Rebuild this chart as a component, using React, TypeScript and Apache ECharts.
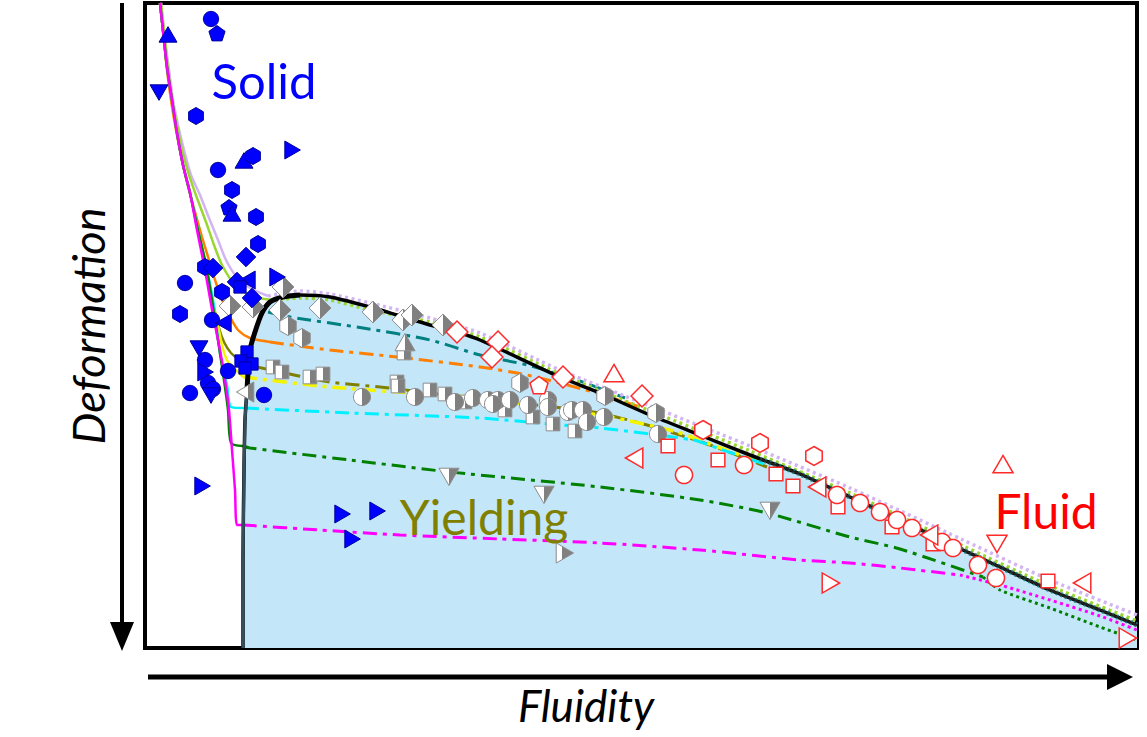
import React, { useEffect, useRef } from "react";
import * as echarts from "echarts";

type Pt = [number, number];
type Shape = "circle" | "square" | "diamond" | "triUp" | "triDown" | "triLeft" | "triRight" | "pentagon" | "hexagon";
type Marker = [number, number, Shape];

const SHAPES: Shape[] = ["circle", "square", "diamond", "triUp", "triDown", "triLeft", "triRight", "pentagon", "hexagon"];

// Axis ranges (arbitrary units)
const X_RANGE: Pt = [145, 1137];
const Y_RANGE: Pt = [3, 648];

// ---------- Markers ----------
const solidMarkers: Marker[] = [
  [211, 19, "circle"], [218, 170, "circle"], [185, 283, "circle"], [212, 320, "circle"], [205, 360, "circle"],
  [228, 371, "circle"], [208, 383, "circle"], [213, 389, "circle"], [190, 393, "circle"], [264, 395, "circle"],
  [217, 34, "pentagon"], [229, 208, "pentagon"],
  [168, 37, "triUp"], [244, 163, "triUp"], [232, 216, "triUp"],
  [159, 90, "triDown"], [199, 346, "triDown"], [211, 393, "triDown"],
  [290, 150, "triRight"], [275, 277, "triRight"], [203, 372, "triRight"], [200, 486, "triRight"],
  [340, 514, "triRight"], [375, 511, "triRight"], [350, 539, "triRight"],
  [250, 280, "triLeft"], [226, 323, "triLeft"],
  [196, 116, "hexagon"], [253, 156, "hexagon"], [232, 190, "hexagon"], [256, 217, "hexagon"],
  [258, 244, "hexagon"], [205, 267, "hexagon"], [222, 292, "hexagon"], [180, 314, "hexagon"],
  [246, 257, "diamond"], [213, 268, "diamond"], [237, 282, "diamond"], [252, 298, "diamond"],
  [240, 287, "square"], [247, 352, "square"], [241, 361, "square"], [252, 364, "square"], [245, 368, "square"],
];

const yieldingMarkers: Marker[] = [
  [283, 287, "diamond"], [230, 306, "diamond"], [253, 307, "diamond"], [280, 310, "diamond"], [320, 308, "diamond"],
  [373, 312, "diamond"], [403, 320, "diamond"], [412, 315, "diamond"], [443, 325, "diamond"],
  [288, 326, "hexagon"], [302, 338, "hexagon"], [520, 383, "hexagon"], [605, 396, "hexagon"], [656, 413, "hexagon"],
  [404, 353, "square"], [405, 345, "triUp"],
  [273, 367, "square"], [282, 372, "square"], [310, 377, "square"], [323, 374, "square"], [397, 382, "square"],
  [398, 386, "square"], [430, 390, "square"], [445, 394, "square"], [465, 402, "square"], [505, 410, "square"],
  [533, 417, "square"], [553, 424, "square"], [575, 431, "square"],
  [362, 397, "circle"], [415, 397, "circle"], [455, 402, "circle"], [473, 398, "circle"], [488, 400, "circle"],
  [498, 400, "circle"], [493, 404, "circle"], [510, 400, "circle"], [528, 405, "circle"], [548, 400, "circle"],
  [548, 407, "circle"], [568, 412, "circle"], [572, 410, "circle"], [583, 410, "circle"], [587, 422, "circle"],
  [604, 417, "circle"], [658, 434, "circle"],
  [248, 392, "triLeft"],
  [449, 474, "triDown"], [544, 492, "triDown"], [770, 508, "triDown"],
  [562, 553, "triRight"],
];

const fluidMarkers: Marker[] = [
  [457, 332, "diamond"], [498, 342, "diamond"], [492, 357, "diamond"], [563, 377, "diamond"], [642, 396, "diamond"],
  [614, 376, "triUp"], [1003, 467, "triUp"],
  [539, 386, "pentagon"],
  [703, 430, "hexagon"], [760, 443, "hexagon"], [814, 456, "hexagon"],
  [668, 446, "square"], [718, 460, "square"], [776, 474, "square"], [793, 486, "square"], [838, 507, "square"],
  [892, 527, "square"], [933, 544, "square"], [1048, 581, "square"],
  [684, 475, "circle"], [744, 465, "circle"], [837, 495, "circle"], [860, 503, "circle"], [880, 512, "circle"],
  [897, 520, "circle"], [912, 528, "circle"], [942, 542, "circle"], [953, 548, "circle"], [978, 565, "circle"],
  [996, 578, "circle"],
  [637, 458, "triLeft"], [820, 487, "triLeft"], [932, 535, "triLeft"], [1085, 583, "triLeft"],
  [997, 541, "triDown"],
  [828, 583, "triRight"], [1125, 638, "triRight"],
];

// ---------- Curves ----------
const boundaryCurve: Pt[] = [
  [243, 648], [243, 560], [244, 470], [245, 420], [247, 390], [250, 350], [255, 332], [262, 313], [270, 302],
  [283, 297], [300, 295], [330, 297], [370, 307], [397, 315], [430, 325], [460, 333], [480, 340], [560, 377],
  [600, 393], [650, 415], [700, 435], [750, 455], [800, 474], [850, 497], [900, 520], [963, 550], [1000, 567],
  [1050, 590], [1100, 610], [1137, 625],
];
const boundaryKnee: Pt[] = [[247, 390], [250, 350], [255, 332], [262, 313], [270, 302], [283, 297], [300, 295]];
const boundaryLeftEdge: Pt[] = [[243, 648], [243, 560], [244, 470], [245, 420], [247, 390]];
const boundaryTail: Pt[] = [
  [760, 459], [800, 474], [850, 497], [900, 520], [963, 550], [1000, 567], [1050, 590], [1100, 610], [1137, 625],
];

const lavenderSolid: Pt[] = [
  [161, 3], [165, 40], [169, 70], [173, 100], [178, 125], [184, 150], [191, 175], [200, 195], [209, 218],
  [218, 240], [226, 260], [236, 276], [250, 288], [268, 296],
];
const lavenderDotted: Pt[] = [
  [268, 296], [300, 291], [330, 294], [370, 303], [430, 318], [480, 333], [560, 370], [650, 406], [750, 446],
  [850, 488], [963, 540], [1050, 580], [1137, 615],
];
const limeSolid: Pt[] = [
  [161, 3], [165, 40], [168, 70], [172, 100], [177, 125], [182, 150], [189, 175], [197, 198], [206, 222],
  [214, 245], [222, 265], [235, 285], [254, 297], [273, 300],
];
const limeDotted: Pt[] = [
  [273, 300], [300, 298], [330, 300], [370, 310], [430, 322], [480, 337], [560, 374], [650, 411], [750, 451],
  [850, 493], [963, 546], [1050, 586], [1137, 621],
];
const orangeSolid: Pt[] = [
  [160, 3], [164, 40], [167, 70], [171, 100], [176, 130], [183, 165], [189, 190], [195, 212], [202, 237],
  [209, 260], [216, 283], [223, 302], [230, 317], [238, 330], [250, 338], [270, 342],
];
const orangeDashDot: Pt[] = [[270, 342], [330, 350], [397, 357], [480, 367], [527, 375], [593, 392], [640, 407]];
const tealDashDot: Pt[] = [[268, 312], [290, 317], [363, 328], [430, 340], [480, 355], [527, 365], [577, 380], [625, 398]];
const oliveSolid: Pt[] = [
  [160, 3], [164, 40], [167, 67], [172, 100], [177, 133], [183, 165], [190, 193], [198, 230], [206, 268],
  [213, 303], [219, 328], [224, 342], [231, 353], [240, 360], [257, 367],
];
const oliveDashDot: Pt[] = [[257, 367], [330, 382], [380, 387], [463, 397], [593, 412], [647, 425], [710, 445], [767, 467]];
const yellowSolid: Pt[] = [
  [160, 3], [164, 40], [167, 67], [172, 100], [177, 133], [183, 165], [190, 193], [198, 230], [206, 265],
  [212, 300], [217, 320], [222, 345], [227, 360], [234, 368], [243, 377],
];
const yellowDashDot: Pt[] = [[243, 377], [330, 387], [480, 398], [537, 406], [610, 417], [677, 432], [710, 444], [760, 462]];
const cyanSolid: Pt[] = [
  [160, 3], [164, 40], [167, 67], [172, 100], [177, 133], [183, 165], [190, 193], [198, 230], [206, 265],
  [213, 300], [220, 353], [227, 385], [231, 407], [245, 408],
];
const cyanDashDot: Pt[] = [[245, 408], [350, 413], [480, 418], [560, 425], [600, 428], [693, 440], [720, 449], [770, 466]];
const greenSolid: Pt[] = [
  [160, 3], [164, 40], [167, 67], [172, 100], [177, 133], [183, 165], [190, 193], [198, 230], [206, 265],
  [212, 300], [218, 340], [224, 380], [228, 410], [231, 443], [243, 446],
];
const greenDashDot: Pt[] = [
  [243, 446], [250, 448], [350, 460], [450, 472], [600, 487], [700, 500], [767, 513], [850, 537], [900, 549], [983, 577],
];
const greenDotted: Pt[] = [[983, 577], [1000, 590], [1050, 608], [1100, 627], [1137, 640]];
const magentaSolid: Pt[] = [
  [160, 3], [164, 40], [167, 67], [172, 100], [177, 133], [183, 165], [190, 193], [197, 230], [205, 270],
  [213, 315], [220, 350], [225, 380], [229, 410], [232, 450], [235, 490], [237, 525], [243, 525],
];
const magentaDashDot: Pt[] = [
  [243, 525], [320, 530], [400, 535], [500, 539], [600, 543], [700, 550], [800, 560], [850, 563], [900, 568], [960, 575],
];
const magentaDotted: Pt[] = [[960, 575], [1000, 585], [1050, 600], [1100, 616], [1137, 630]];

// ---------- Marker geometry ----------
function shapePoints(shape: Shape, r: number): number[][] {
  const poly = (n: number, R: number, start: number) => {
    const pts: number[][] = [];
    for (let k = 0; k < n; k++) {
      const a = start + (k * 2 * Math.PI) / n;
      pts.push([R * Math.cos(a), R * Math.sin(a)]);
    }
    return pts;
  };
  const d = -Math.PI / 2;
  switch (shape) {
    case "circle": return poly(36, r * 0.9, 0);
    case "square": { const a = r * 0.72; return [[-a, -a], [a, -a], [a, a], [-a, a]]; }
    case "diamond": { const a = r * 1.15; return [[0, -a], [a, 0], [0, a], [-a, 0]]; }
    case "triUp": return poly(3, r * 1.22, d);
    case "triDown": return poly(3, r * 1.22, -d);
    case "triRight": return poly(3, r * 1.22, 0);
    case "triLeft": return poly(3, r * 1.22, Math.PI);
    case "pentagon": return poly(5, r, d);
    case "hexagon": return poly(6, r, d);
  }
  return [];
}

function clipRight(pts: number[][]): number[][] {
  const out: number[][] = [];
  const n = pts.length;
  const cut = (p: number[], c: number[]) => {
    const t = -p[0] / (c[0] - p[0]);
    return [0, p[1] + t * (c[1] - p[1])];
  };
  for (let i = 0; i < n; i++) {
    const cur = pts[i];
    const prev = pts[(i - 1 + n) % n];
    const cIn = cur[0] >= -1e-9;
    const pIn = prev[0] >= -1e-9;
    if (cIn) {
      if (!pIn) out.push(cut(prev, cur));
      out.push(cur);
    } else if (pIn) {
      out.push(cut(prev, cur));
    }
  }
  return out;
}

function markerSeries(data: Marker[], mode: "solid" | "half" | "open", size: number, z: number) {
  return {
    type: "custom",
    coordinateSystem: "cartesian2d",
    silent: true,
    z,
    clip: false,
    encode: { x: 0, y: 1 },
    data: data.map(([x, y, s]) => [x, y, SHAPES.indexOf(s)]),
    renderItem: (_params: any, api: any) => {
      const c = api.coord([api.value(0), api.value(1)]);
      const shape = SHAPES[api.value(2) as number];
      const base = shapePoints(shape, size / 2);
      const tr = (pts: number[][]) => pts.map((p) => [p[0] + c[0], p[1] + c[1]]);
      const children: any[] = [];
      if (mode === "solid") {
        children.push({ type: "polygon", shape: { points: tr(base) }, style: { fill: "#0000ff", stroke: "#00009a", lineWidth: 1 } });
      } else if (mode === "half") {
        children.push({ type: "polygon", shape: { points: tr(base) }, style: { fill: "#ffffff", stroke: "none" } });
        children.push({ type: "polygon", shape: { points: tr(clipRight(base)) }, style: { fill: "#808080", stroke: "none" } });
        children.push({ type: "polygon", shape: { points: tr(base) }, style: { fill: "none", stroke: "#8c8c8c", lineWidth: 1 } });
      } else {
        children.push({ type: "polygon", shape: { points: tr(base) }, style: { fill: "#ffffff", stroke: "#ff2a2a", lineWidth: 1.5 } });
      }
      return { type: "group", children };
    },
  };
}

function lineSeries(data: Pt[], color: string, width: number, type: any, smooth = 0.25) {
  return {
    type: "line",
    data,
    symbol: "none",
    showSymbol: false,
    silent: true,
    smooth,
    z: 3,
    lineStyle: { color, width, type, cap: "butt" },
  };
}

const DASH_DOT = [14, 6, 4, 6];
const DOT = [3, 3.5];

export default function App() {
  const ref = useRef<HTMLDivElement>(null);
  useEffect(() => {
    document.body.style.margin = "0";
    if (!ref.current) return;
    const chart = echarts.init(ref.current, undefined, { renderer: "svg" });
    const option: any = {
      animation: false,
      backgroundColor: "#ffffff",
      grid: { left: 145, right: 10, top: 3, bottom: 89, show: true, borderColor: "#000", borderWidth: 4, backgroundColor: "transparent" },
      xAxis: { type: "value", min: X_RANGE[0], max: X_RANGE[1], show: false },
      yAxis: { type: "value", min: Y_RANGE[0], max: Y_RANGE[1], inverse: true, show: false },
      series: [
        {
          type: "line",
          data: boundaryCurve,
          symbol: "none",
          silent: true,
          smooth: 0.25,
          z: 1,
          lineStyle: { width: 0, opacity: 0 },
          areaStyle: { color: "#c4e6f9", opacity: 1, origin: "end" },
        },
        lineSeries(lavenderSolid, "#d2b4f2", 2.5, "solid"),
        lineSeries(limeSolid, "#9ad632", 2.5, "solid"),
        lineSeries(orangeSolid, "#ff7f00", 2.5, "solid"),
        lineSeries(orangeDashDot, "#ff7f00", 3, DASH_DOT),
        lineSeries(tealDashDot, "#008080", 3, DASH_DOT),
        lineSeries(oliveSolid, "#808000", 2.5, "solid"),
        lineSeries(oliveDashDot, "#808000", 3, DASH_DOT),
        lineSeries(yellowSolid, "#f4f400", 2.5, "solid"),
        lineSeries(yellowDashDot, "#f4f400", 3.5, DASH_DOT),
        lineSeries(cyanSolid, "#00f0ff", 2.5, "solid"),
        lineSeries(cyanDashDot, "#00f0ff", 3, DASH_DOT),
        lineSeries(greenSolid, "#008000", 2.5, "solid"),
        lineSeries(greenDashDot, "#008000", 3, DASH_DOT),
        lineSeries(greenDotted, "#008000", 3, DOT),
        lineSeries(magentaSolid, "#ff00ff", 2.5, "solid"),
        lineSeries(magentaDashDot, "#ff00ff", 3, DASH_DOT),
        lineSeries(magentaDotted, "#ff00ff", 3, DOT),
        lineSeries(lavenderDotted, "#d2b4f2", 3.5, DOT),
        lineSeries(limeDotted, "#9ad632", 3.5, DOT),
        lineSeries(boundaryCurve, "#000000", 3.5, "solid"),
        lineSeries(boundaryKnee, "#000000", 5, "solid"),
        lineSeries(boundaryTail, "#1f7f80", 5, [2, 3]),
        lineSeries(boundaryTail, "#202020", 2, "solid"),
        lineSeries(boundaryLeftEdge, "#34505e", 3, "solid", 0),
        markerSeries(yieldingMarkers, "half", 19, 10),
        markerSeries(fluidMarkers, "open", 19, 11),
        markerSeries(solidMarkers, "solid", 17, 12),
      ],
      graphic: [
        { type: "line", shape: { x1: 122, y1: 3, x2: 122, y2: 626 }, style: { stroke: "#000", lineWidth: 4 } },
        { type: "polygon", shape: { points: [[110, 622], [134, 622], [122, 651]] }, style: { fill: "#000" } },
        { type: "line", shape: { x1: 148, y1: 677, x2: 1110, y2: 677 }, style: { stroke: "#000", lineWidth: 5 } },
        { type: "polygon", shape: { points: [[1107, 664], [1107, 690], [1133, 677]] }, style: { fill: "#000" } },
        {
          type: "text", x: 88, y: 326, rotation: Math.PI / 2, z: 100,
          style: { text: "Deformation", font: "italic 45px Lato", fill: "#000", align: "center", verticalAlign: "middle" },
        },
        {
          type: "text", x: 586, y: 705, z: 100,
          style: { text: "Fluidity", font: "italic 44px Lato", fill: "#000", align: "center", verticalAlign: "middle" },
        },
        {
          type: "text", x: 264, y: 80, z: 100,
          style: { text: "Solid", font: "49px Lato", fill: "#0000ff", align: "center", verticalAlign: "middle" },
        },
        {
          type: "text", x: 484, y: 516, z: 100,
          style: { text: "Yielding", font: "48px Lato", fill: "#808000", align: "center", verticalAlign: "middle" },
        },
        {
          type: "text", x: 1046, y: 510, z: 100,
          style: { text: "Fluid", font: "48px Lato", fill: "#ff0000", align: "center", verticalAlign: "middle" },
        },
      ],
    };
    chart.setOption(option);
    return () => chart.dispose();
  }, []);
  return <div ref={ref} style={{ width: 1147, height: 737 }} />;
}
